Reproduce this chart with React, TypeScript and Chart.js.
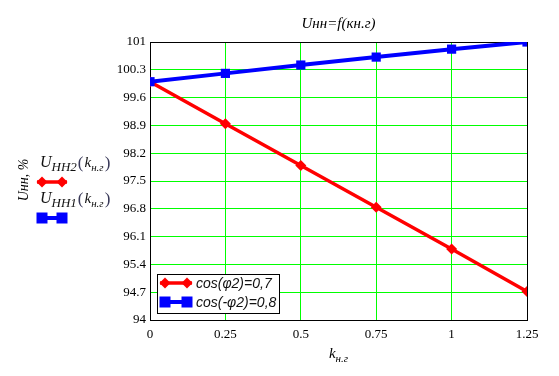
import React, { useEffect, useRef } from "react";
import { Chart, registerables } from "chart.js";

Chart.register(...registerables);

const kValues = [0, 0.25, 0.5, 0.75, 1, 1.25];
const uHH2 = [100.0, 98.94, 97.89, 96.84, 95.79, 94.72];
const uHH1 = [100.0, 100.21, 100.42, 100.62, 100.82, 101.0];
const xTicks = [0, 0.25, 0.5, 0.75, 1, 1.25];
const yTicks = [94, 94.7, 95.4, 96.1, 96.8, 97.5, 98.2, 98.9, 99.6, 100.3, 101];
const legendLabels = ["cos(φ2)=0,7", "cos(-φ2)=0,8"];
const titleText = "Uнн=f(кн.г)";
const yTitleText = "Uнн, %";

const RED = "#ff0000";
const BLUE = "#0000ff";
const SERIF = "'Liberation Serif', 'Times New Roman', serif";
const SANS = "'Liberation Sans', Arial, sans-serif";

function drawMarker(ctx: CanvasRenderingContext2D, kind: string, x: number, y: number, r: number, color: string) {
  ctx.fillStyle = color;
  ctx.beginPath();
  if (kind === "diamond") {
    ctx.moveTo(x, y - r);
    ctx.lineTo(x + r, y);
    ctx.lineTo(x, y + r);
    ctx.lineTo(x - r, y);
    ctx.closePath();
  } else {
    ctx.rect(x - r, y - r, 2 * r, 2 * r);
  }
  ctx.fill();
}

function drawSample(ctx: CanvasRenderingContext2D, kind: string, x1: number, x2: number, y: number, color: string, lw: number, r: number) {
  ctx.save();
  ctx.strokeStyle = color;
  ctx.lineWidth = lw;
  ctx.beginPath();
  ctx.moveTo(x1, y);
  ctx.lineTo(x2, y);
  ctx.stroke();
  drawMarker(ctx, kind, x1 + 5, y, r, color);
  drawMarker(ctx, kind, x2 - 5, y, r, color);
  ctx.restore();
}

function drawTraceLabel(ctx: CanvasRenderingContext2D, x: number, baseline: number, sub: string) {
  ctx.save();
  ctx.fillStyle = "#111";
  ctx.textAlign = "left";
  ctx.textBaseline = "alphabetic";
  let cx = x;
  ctx.font = `italic 16px ${SERIF}`;
  ctx.fillText("U", cx, baseline);
  cx += ctx.measureText("U").width;
  ctx.font = `italic 13px ${SERIF}`;
  ctx.fillText(sub, cx, baseline + 4);
  cx += ctx.measureText(sub).width + 1;
  ctx.fillStyle = "#3a3a5a";
  ctx.font = `17px ${SERIF}`;
  ctx.fillText("(", cx, baseline + 1);
  cx += ctx.measureText("(").width + 1;
  ctx.fillStyle = "#111";
  ctx.font = `italic 15px ${SERIF}`;
  ctx.fillText("k", cx, baseline);
  cx += ctx.measureText("k").width;
  ctx.font = `italic 11px ${SERIF}`;
  ctx.fillText("н.г", cx, baseline + 4);
  cx += ctx.measureText("н.г").width + 1;
  ctx.fillStyle = "#3a3a5a";
  ctx.font = `17px ${SERIF}`;
  ctx.fillText(")", cx, baseline + 1);
  ctx.restore();
}

const extrasPlugin = {
  id: "extras",
  afterDraw(chart: any) {
    const ctx: CanvasRenderingContext2D = chart.ctx;
    const area = chart.chartArea;
    const cxMid = (area.left + area.right) / 2;
    ctx.save();
    // title
    ctx.fillStyle = "#000";
    ctx.textAlign = "center";
    ctx.textBaseline = "middle";
    ctx.font = `italic 15px ${SERIF}`;
    ctx.fillText(titleText, cxMid, 24);

    // x axis title k with subscript
    ctx.textAlign = "left";
    ctx.textBaseline = "alphabetic";
    ctx.font = `italic 15px ${SERIF}`;
    const kw = ctx.measureText("k").width;
    ctx.font = `italic 11px ${SERIF}`;
    const sw = ctx.measureText("н.г").width;
    const startX = cxMid - (kw + sw) / 2;
    ctx.font = `italic 15px ${SERIF}`;
    ctx.fillText("k", startX, 358);
    ctx.font = `italic 11px ${SERIF}`;
    ctx.fillText("н.г", startX + kw, 362);

    // y axis title
    ctx.save();
    ctx.translate(24, 180);
    ctx.rotate(-Math.PI / 2);
    ctx.textAlign = "center";
    ctx.textBaseline = "middle";
    ctx.font = `italic 14px ${SERIF}`;
    ctx.fillText(yTitleText, 0, 0);
    ctx.restore();

    // left trace labels
    drawTraceLabel(ctx, 40, 167, "НН2");
    drawSample(ctx, "diamond", 37, 67, 182, RED, 3.5, 5.5);
    drawTraceLabel(ctx, 40, 203, "НН1");
    drawSample(ctx, "square", 37, 67, 218, BLUE, 4, 5.5);

    // in-plot legend box
    const bx = area.left + 7;
    const by = 274;
    const bw = 122;
    const bh = 39;
    ctx.fillStyle = "#fff";
    ctx.fillRect(bx, by, bw, bh);
    ctx.strokeStyle = "#000";
    ctx.lineWidth = 1;
    ctx.strokeRect(bx + 0.5, by + 0.5, bw, bh);
    drawSample(ctx, "diamond", bx + 3, bx + 35, by + 9, RED, 3.5, 5.5);
    drawSample(ctx, "square", bx + 3, bx + 35, by + 28, BLUE, 4, 5.5);
    ctx.fillStyle = "#111";
    ctx.font = `italic 14px ${SANS}`;
    ctx.textAlign = "left";
    ctx.textBaseline = "middle";
    ctx.fillText(legendLabels[0], bx + 39, by + 10);
    ctx.fillText(legendLabels[1], bx + 39, by + 29);
    ctx.restore();
  },
};

export default function App() {
  const ref = useRef<HTMLCanvasElement | null>(null);
  useEffect(() => {
    if (!ref.current) return;
    const chart = new Chart(ref.current, {
      type: "line",
      data: {
        datasets: [
          {
            label: legendLabels[0],
            data: kValues.map((k, i) => ({ x: k, y: uHH2[i] })),
            borderColor: RED,
            backgroundColor: RED,
            borderWidth: 3.5,
            pointStyle: "rectRot",
            pointRadius: 5.5,
            pointBorderWidth: 0,
            order: 2,
          },
          {
            label: legendLabels[1],
            data: kValues.map((k, i) => ({ x: k, y: uHH1[i] })),
            borderColor: BLUE,
            backgroundColor: BLUE,
            borderWidth: 4,
            pointStyle: "rect",
            pointRadius: 6.5,
            pointBorderWidth: 0,
            order: 1,
          },
        ],
      },
      options: {
        animation: false,
        responsive: false,
        maintainAspectRatio: false,
        layout: { padding: { top: 42, right: 32, left: 0, bottom: 0 } },
        plugins: { legend: { display: false }, tooltip: { enabled: false }, title: { display: false } },
        scales: {
          x: {
            type: "linear",
            min: 0,
            max: 1.25,
            afterBuildTicks: (s: any) => {
              s.ticks = xTicks.map((v) => ({ value: v }));
            },
            afterFit: (s: any) => {
              s.height = 56;
            },
            ticks: {
              color: "#000",
              padding: 7,
              maxRotation: 0,
              font: { family: SERIF, size: 13 },
              callback: (v: any) => String(v),
            },
            grid: {
              drawTicks: false,
              lineWidth: 1,
              color: (c: any) => (c.tick && (c.tick.value === 0 || c.tick.value === 1.25) ? "#000" : "#00ff00"),
            },
            border: { color: "#000", width: 1 },
          },
          y: {
            type: "linear",
            min: 94,
            max: 101,
            afterBuildTicks: (s: any) => {
              s.ticks = yTicks.map((v) => ({ value: v }));
            },
            afterFit: (s: any) => {
              s.width = 150;
            },
            ticks: {
              color: "#000",
              padding: 4,
              font: { family: SERIF, size: 13 },
              callback: (v: any) => String(Math.round(v * 10) / 10),
            },
            grid: {
              drawTicks: false,
              lineWidth: 1,
              color: (c: any) => (c.tick && (c.tick.value === 94 || c.tick.value === 101) ? "#000" : "#00ff00"),
            },
            border: { color: "#000", width: 1 },
          },
        },
      },
      plugins: [extrasPlugin],
    });
    return () => chart.destroy();
  }, []);
  return (
    <div style={{ position: "absolute", left: 0, top: 0, width: 559, height: 376, background: "#fff" }}>
      <canvas ref={ref} width={559} height={376} style={{ width: 559, height: 376 }} />
    </div>
  );
}
